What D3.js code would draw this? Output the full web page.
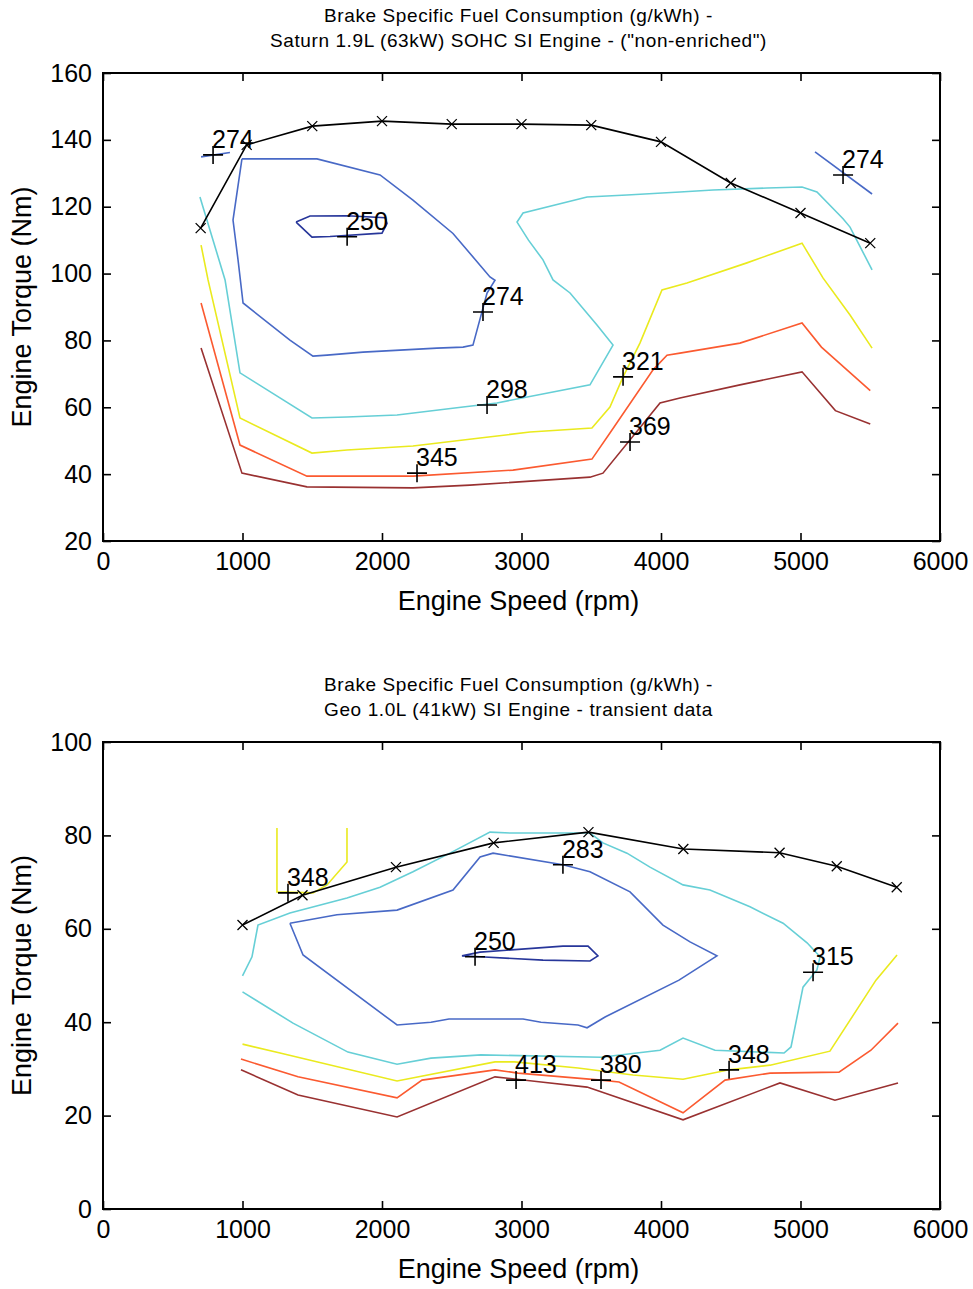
<!DOCTYPE html>
<html lang="en">

<head>
  <meta charset="UTF-8">
  <title>BSFC maps</title>
  <script src="https://cdn.jsdelivr.net/npm/d3@7/dist/d3.min.js"></script>
  <style>
    html,
    body {
      margin: 0;
      background: #fff;
    }

    text {
      font-family: 'Liberation Sans', Arial, sans-serif;
      fill: #000;
    }
  </style>
</head>

<body>
  <script>
    // canvas
    const width = 973
    const height = 1289

    const svg = d3.select('body').append('svg')
      .attr('width', width)
      .attr('height', height)

    // ticks
    const speedTicks = [0, 1000, 2000, 3000, 4000, 5000, 6000]
    const topTorqueTicks = [20, 40, 60, 80, 100, 120, 140, 160]
    const bottomTorqueTicks = [0, 20, 40, 60, 80, 100]

    // Saturn 1.9L - max torque curve
    const topMaxSpeed = [700, 1030, 1500, 2000, 2500, 3000, 3500, 4000, 4500, 5000, 5500]
    const topMaxTorque = [113.6, 138.5, 144.1, 145.6, 144.7, 144.7, 144.4, 139.4, 127.1, 118.1, 109.1]

    // Saturn 1.9L - contours [speed, torque]
    const top250 = [[1384, 115.4], [1484, 117.2], [1749, 117.3], [2022, 116.7], [2036, 115], [2000, 112.1], [1627, 111.1], [1498, 110.9], [1384, 115.4]]
    const top274 = [[996, 134.3], [1534, 134.3], [1986, 129.5], [2222, 122], [2509, 112], [2774, 99], [2810, 98], [2753, 94.2], [2652, 78.6], [2581, 78], [2394, 77.7], [2129, 77.1], [1864, 76.5], [1606, 75.6], [1505, 75.3], [1340, 80.1], [1004, 91.2], [968, 104.1], [932, 116], [996, 134.3]]
    const top274a = [[703, 134.9], [910, 136.2]]
    const top274b = [[5104, 136.4], [5513, 123.8]]
    const top298 = [[695, 122.9], [875, 98.1], [982, 70.3], [1498, 56.8], [1749, 57.1], [2108, 57.7], [2581, 60.1], [2824, 61.3], [3491, 66.7], [3656, 78.6], [3541, 84.6], [3348, 94.2], [3226, 98.1], [3154, 104.1], [3050, 110], [2968, 115.4], [3011, 118.1], [3470, 122.9], [3756, 123.5], [4136, 124.4], [4373, 125], [4760, 125.6], [5011, 125.9], [5118, 124.4], [5305, 116.4], [5355, 113.9], [5513, 101.1]]
    const top321 = [[703, 108.5], [753, 98.1], [982, 56.8], [1498, 46.3], [1749, 47.2], [2222, 48.4], [2703, 50.8], [3061, 52.6], [3505, 53.8], [3634, 60.1], [3728, 69.1], [3849, 79.2], [4007, 95.1], [4186, 97.2], [4616, 103.2], [5011, 109.1], [5161, 98.7], [5355, 87.6], [5513, 77.7]]
    const top345 = [[703, 91.2], [982, 48.7], [1462, 39.4], [2222, 39.4], [2939, 41.2], [3505, 44.5], [3634, 52.3], [3943, 71.2], [4043, 75.6], [4136, 76.2], [4566, 79.2], [5011, 85.2], [5150, 78], [5500, 65]]
    const top369 = [[703, 77.7], [996, 40.3], [1462, 36.2], [2222, 35.9], [2631, 36.7], [3491, 39.1], [3584, 40.3], [3993, 61.3], [4136, 62.8], [4566, 66.7], [5011, 70.6], [5250, 59], [5500, 55]]

    // Saturn labels: value, speed, torque
    const topLabelValues = [274, 250, 274, 298, 321, 345, 369, 274]
    const topLabelSpeed = [789, 1750, 2724, 2753, 3728, 2251, 3778, 5305]
    const topLabelTorque = [135.5, 111, 88.5, 60.7, 69.1, 40.3, 49.6, 129.5]

    // Geo 1.0L - max torque curve
    const botMaxSpeed = [1000, 1430, 2100, 2800, 3480, 4160, 4850, 5260, 5690]
    const botMaxTorque = [60.8, 67.2, 73.2, 78.4, 80.7, 77.1, 76.3, 73.4, 68.9]

    // Geo 1.0L - contours [speed, torque]
    const bot250 = [[2573, 54.2], [2703, 55], [3297, 56.3], [3477, 56.3], [3548, 54.2], [3491, 53.1], [3154, 53.3], [2703, 54], [2573, 54.2]]
    const bot283 = [[1340, 61.2], [1434, 54.4], [2108, 39.4], [2351, 40], [2480, 40.7], [3011, 40.7], [3140, 40], [3405, 39.4], [3470, 38.8], [3599, 41.1], [4129, 49], [4401, 54.2], [4208, 57.2], [4014, 60.8], [3778, 67.9], [3491, 72.2], [3297, 73.7], [2796, 76.2], [2703, 75.4], [2509, 68.3], [2108, 64], [1677, 63], [1340, 61.2]]
    const bot315 = [[1000, 49.9], [1068, 54], [1111, 60.8], [1340, 63.4], [1749, 66.6], [1986, 68.9], [2222, 72.2], [2487, 76.2], [2774, 80.7], [2918, 80.5], [3276, 80.5], [3491, 80.5], [3584, 78.4], [3756, 76.2], [3921, 73.2], [4158, 69.4], [4351, 68.3], [4638, 64.7], [4875, 61.2], [5047, 57], [5140, 54], [5118, 51.2], [5018, 47.5], [4932, 34.7], [4882, 33.4], [4387, 34], [4158, 36.6], [3993, 34], [3570, 32.5], [2710, 33], [2351, 32.3], [2108, 31], [1756, 33.6], [1362, 39.8], [1000, 46.5]]
    const bot348a = [[1247, 81.6], [1247, 67.9], [1505, 67.7], [1606, 69.4], [1749, 74.3], [1749, 81.6]]
    const bot348 = [[1000, 35.3], [1269, 33.4], [2108, 27.4], [2810, 31.5], [2950, 31.5], [3405, 30.2], [3799, 28.7], [4158, 27.8], [4488, 29.8], [4782, 30.8], [5211, 33.8], [5541, 49], [5692, 54.4]]
    const bot380 = [[989, 32.1], [1398, 28.3], [2108, 23.8], [2287, 27.6], [2810, 29.8], [2975, 29.1], [3570, 27.6], [3699, 27.2], [4158, 20.6], [4459, 27.6], [4782, 29.1], [5276, 29.3], [5505, 34], [5699, 39.8]]
    const bot413 = [[989, 29.8], [1398, 24.4], [2108, 19.7], [2810, 28.3], [3140, 27.2], [3470, 26.1], [4158, 19.1], [4853, 27], [5247, 23.3], [5699, 27]]

    // Geo labels
    const botLabelValues = [348, 283, 250, 315, 413, 380, 348]
    const botLabelSpeed = [1326, 3297, 2667, 5090, 2961, 3570, 4488]
    const botLabelTorque = [67.7, 73.7, 54, 50.7, 27.6, 27.6, 29.8]

    // contour colours, lowest level first
    const colors = ['#27369a', '#4869c6', '#66cfd6', '#eaea1e', '#fb5a30', '#993131']

    function drawPanel(opt) {
      const g = svg.append('g')

      const x = d3.scaleLinear().domain([0, 6000]).range([opt.left, opt.right])
      const y = d3.scaleLinear().domain(d3.extent(opt.yTicks)).range([opt.bottom, opt.top])

      const line = d3.line().x(d => x(d[0])).y(d => y(d[1]))

      // 等值线
      g.selectAll('.contour')
        .data(opt.contours)
        .enter()
        .append('path')
        .attr('class', 'contour')
        .attr('d', d => line(d.points))
        .attr('fill', 'none')
        .attr('stroke', d => colors[d.level])
        .attr('stroke-width', 1.6)

      // max torque curve
      const maxPts = opt.maxSpeed.map((s, i) => [s, opt.maxTorque[i]])
      g.append('path')
        .attr('d', line(maxPts))
        .attr('fill', 'none')
        .attr('stroke', '#000')
        .attr('stroke-width', 1.6)

      g.selectAll('.xmark')
        .data(maxPts)
        .enter()
        .append('path')
        .attr('class', 'xmark')
        .attr('transform', d => `translate(${x(d[0])},${y(d[1])})`)
        .attr('d', 'M-5,-5L5,5M-5,5L5,-5')
        .attr('stroke', '#000')
        .attr('stroke-width', 1.3)

      // contour labels
      const labels = opt.labelValues.map((v, i) => ({ v, s: opt.labelSpeed[i], t: opt.labelTorque[i] }))
      g.selectAll('.plus')
        .data(labels)
        .enter()
        .append('path')
        .attr('class', 'plus')
        .attr('transform', d => `translate(${x(d.s)},${y(d.t)})`)
        .attr('d', 'M-10,0H10M0,-9V9')
        .attr('stroke', '#000')
        .attr('stroke-width', 1.6)

      g.selectAll('.lbl')
        .data(labels)
        .enter()
        .append('text')
        .attr('class', 'lbl')
        .attr('x', d => x(d.s) - 1)
        .attr('y', d => y(d.t) - 7)
        .attr('font-size', 25)
        .text(d => d.v)

      // axes, ticks point inward
      const xAxis = g.append('g')
        .attr('transform', `translate(0,${opt.bottom})`)
        .call(d3.axisBottom(x).tickValues(speedTicks).tickFormat(d3.format('d')).tickSize(-8).tickPadding(11))
      const yAxis = g.append('g')
        .attr('transform', `translate(${opt.left},0)`)
        .call(d3.axisLeft(y).tickValues(opt.yTicks).tickFormat(d3.format('d')).tickSize(-8).tickPadding(11))
      const xTop = g.append('g')
        .attr('transform', `translate(0,${opt.top})`)
        .call(d3.axisTop(x).tickValues(speedTicks).tickSize(-8).tickFormat(''))
      const yRight = g.append('g')
        .attr('transform', `translate(${opt.right},0)`)
        .call(d3.axisRight(y).tickValues(opt.yTicks).tickSize(-8).tickFormat(''))

      ;[xAxis, yAxis, xTop, yRight].forEach(a => {
        a.select('.domain').remove()
        a.selectAll('line').attr('stroke', '#000').attr('stroke-width', 1.6)
        a.selectAll('text').attr('font-size', 25).attr('font-family', null)
      })

      // box
      g.append('rect')
        .attr('x', opt.left)
        .attr('y', opt.top)
        .attr('width', opt.right - opt.left)
        .attr('height', opt.bottom - opt.top)
        .attr('fill', 'none')
        .attr('stroke', '#000')
        .attr('stroke-width', 2)

      // titles
      const cx = (opt.left + opt.right) / 2 - 3
      opt.title.forEach((t, i) => {
        g.append('text')
          .attr('x', cx)
          .attr('y', opt.top - 51 + i * 25)
          .attr('text-anchor', 'middle')
          .attr('font-size', 19)
          .attr('letter-spacing', 0.6)
          .text(t)
      })

      g.append('text')
        .attr('x', cx)
        .attr('y', opt.bottom + 69)
        .attr('text-anchor', 'middle')
        .attr('font-size', 27)
        .text('Engine Speed (rpm)')

      g.append('text')
        .attr('transform', `translate(31,${(opt.top + opt.bottom) / 2}) rotate(-90)`)
        .attr('text-anchor', 'middle')
        .attr('font-size', 27)
        .text('Engine Torque (Nm)')
    }

    drawPanel({
      left: 103, right: 940, top: 73, bottom: 541,
      yTicks: topTorqueTicks,
      title: ['Brake Specific Fuel Consumption (g/kWh) -', 'Saturn 1.9L (63kW) SOHC SI Engine - ("non-enriched")'],
      maxSpeed: topMaxSpeed, maxTorque: topMaxTorque,
      contours: [
        { level: 0, points: top250 },
        { level: 1, points: top274 },
        { level: 1, points: top274a },
        { level: 1, points: top274b },
        { level: 2, points: top298 },
        { level: 3, points: top321 },
        { level: 4, points: top345 },
        { level: 5, points: top369 }
      ],
      labelValues: topLabelValues, labelSpeed: topLabelSpeed, labelTorque: topLabelTorque
    })

    drawPanel({
      left: 103, right: 940, top: 742, bottom: 1209,
      yTicks: bottomTorqueTicks,
      title: ['Brake Specific Fuel Consumption (g/kWh) -', 'Geo 1.0L (41kW) SI Engine - transient data'],
      maxSpeed: botMaxSpeed, maxTorque: botMaxTorque,
      contours: [
        { level: 0, points: bot250 },
        { level: 1, points: bot283 },
        { level: 2, points: bot315 },
        { level: 3, points: bot348a },
        { level: 3, points: bot348 },
        { level: 4, points: bot380 },
        { level: 5, points: bot413 }
      ],
      labelValues: botLabelValues, labelSpeed: botLabelSpeed, labelTorque: botLabelTorque
    })
  </script>
</body>

</html>
